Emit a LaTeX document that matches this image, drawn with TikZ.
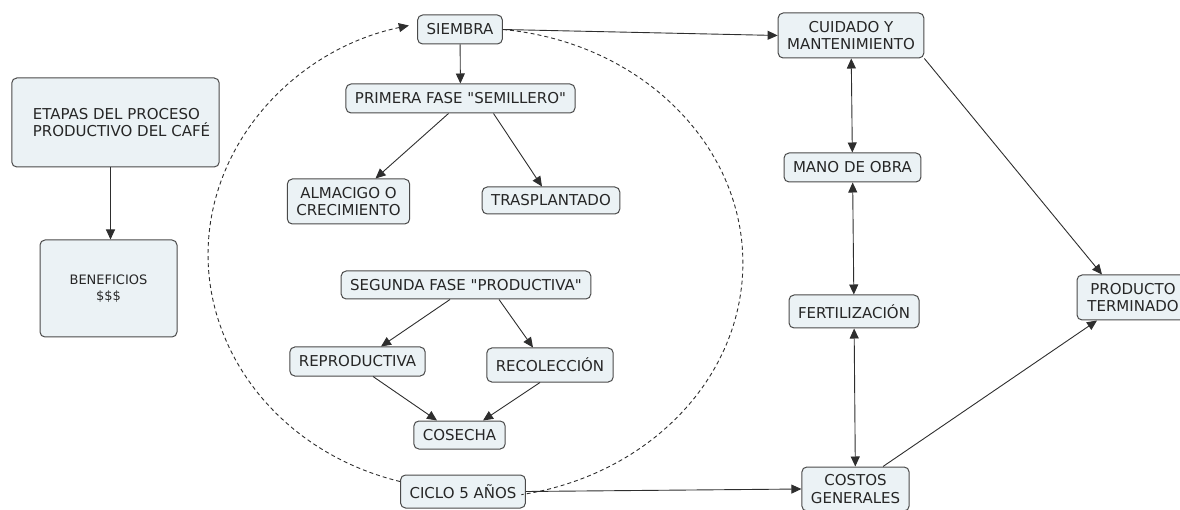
\documentclass[tikz,border=0pt]{standalone}
\usepackage{fontspec}
\setmainfont{DejaVu Sans}[Ligatures=TeXOff]
\usepackage{tikz}
\usetikzlibrary{arrows.meta}
\definecolor{cajafondo}{HTML}{EBF2F5}
\definecolor{cajaborde}{HTML}{4A4A4A}
\definecolor{linea}{HTML}{2E2E2E}
\tikzset{>/.tip={Triangle[length=10pt,width=9pt]},
  concepto/.style={draw=cajaborde, line width=1pt, fill=cajafondo, rounded corners=5pt,
    align=center, inner xsep=9pt, inner ysep=3pt, minimum height=29pt, text=black!85,
    font=\fontsize{15}{17.5}\selectfont},
  flecha/.style={->, draw=linea, line width=0.9pt},
  ciclo/.style={draw=linea, line width=0.9pt, dash pattern=on 4pt off 3pt}}

\begin{document}
\begin{tikzpicture}[x=1pt, y=-1pt]
\useasboundingbox (0,0) rectangle (1180,510);
\node[concepto, align=left, minimum width=207pt, minimum height=89pt] (etapas) at (115.5,122.5) {\hspace*{12pt}ETAPAS DEL PROCESO\\\hspace*{12pt}PRODUCTIVO DEL CAFÉ};
\node[concepto, minimum width=137pt, minimum height=97pt, font=\fontsize{13}{15.5}\selectfont] (beneficios) at (108.5,288.5) {BENEFICIOS\\\$\$\$};

\node[concepto] (siembra) at (460,29.5) {SIEMBRA};
\node[concepto] (fase1) at (460.5,98.5) {PRIMERA FASE "SEMILLERO"};
\node[concepto, minimum height=45pt] (almacigo) at (348.5,201.5) {ALMACIGO O\\CRECIMIENTO};
\node[concepto, minimum height=27pt] (trasplantado) at (551,200.5) {TRASPLANTADO};
\node[concepto, minimum height=28pt] (fase2) at (466,285) {SEGUNDA FASE "PRODUCTIVA"};
\node[concepto] (reproductiva) at (357.5,361.5) {REPRODUCTIVA};
\node[concepto, minimum height=34pt] (recoleccion) at (550,365) {RECOLECCIÓN};
\node[concepto, minimum height=28pt] (cosecha) at (459.5,435) {COSECHA};
\node[concepto, minimum height=33pt] (ciclo) at (463,491.5) {CICLO 5 AÑOS};

\node[concepto, minimum height=45pt] (cuidado) at (851,35.5) {CUIDADO Y\\MANTENIMIENTO};
\node[concepto] (mano) at (852.5,167.5) {MANO DE OBRA};
\node[concepto, minimum height=33pt] (fert) at (854,311.5) {FERTILIZACIÓN};
\node[concepto, minimum height=44pt] (costos) at (855.5,489) {COSTOS\\GENERALES};
\node[concepto, minimum height=45pt, minimum width=112pt] (producto) at (1133,297.5) {PRODUCTO\\TERMINADO};

% ciclo de cinco anos
\draw[ciclo, ->] ([yshift=10pt]ciclo.west) arc[start angle=105, end angle=257, x radius=259, y radius=235];
\draw[ciclo] (siembra.east) arc[start angle=-84, end angle=80, x radius=268, y radius=235];

\draw[flecha] ([xshift=-5pt]etapas.south) -- ([xshift=-5pt]etapas.south |- beneficios.north);
\draw[flecha] (siembra) -- (fase1);
\draw[flecha] ([xshift=-12pt]fase1.south) -- ([xshift=27pt]almacigo.north);
\draw[flecha] ([xshift=33pt]fase1.south) -- ([xshift=-9pt]trasplantado.north);
\draw[flecha] ([xshift=-16pt]fase2.south) -- ([xshift=23.5pt]reproductiva.north);
\draw[flecha] ([xshift=33pt]fase2.south) -- ([xshift=-17pt]recoleccion.north);
\draw[flecha] ([xshift=15.5pt]reproductiva.south) -- ([xshift=-22.5pt]cosecha.north);
\draw[flecha] ([xshift=-10pt]recoleccion.south) -- ([xshift=23.5pt]cosecha.north);

\draw[flecha] (siembra.east) -- (cuidado.west);
\draw[flecha] (ciclo.east) -- (costos.west);
\draw[flecha, <->] (cuidado) -- (mano);
\draw[flecha, <->] (mano) -- (fert);
\draw[flecha, <->] (fert) -- (costos);
\draw[flecha] (cuidado.south east) -- ([xshift=-31pt]producto.north);
\draw[flecha] ([xshift=27.5pt]costos.north) -- ([xshift=-36pt]producto.south);
\end{tikzpicture}
\end{document}
